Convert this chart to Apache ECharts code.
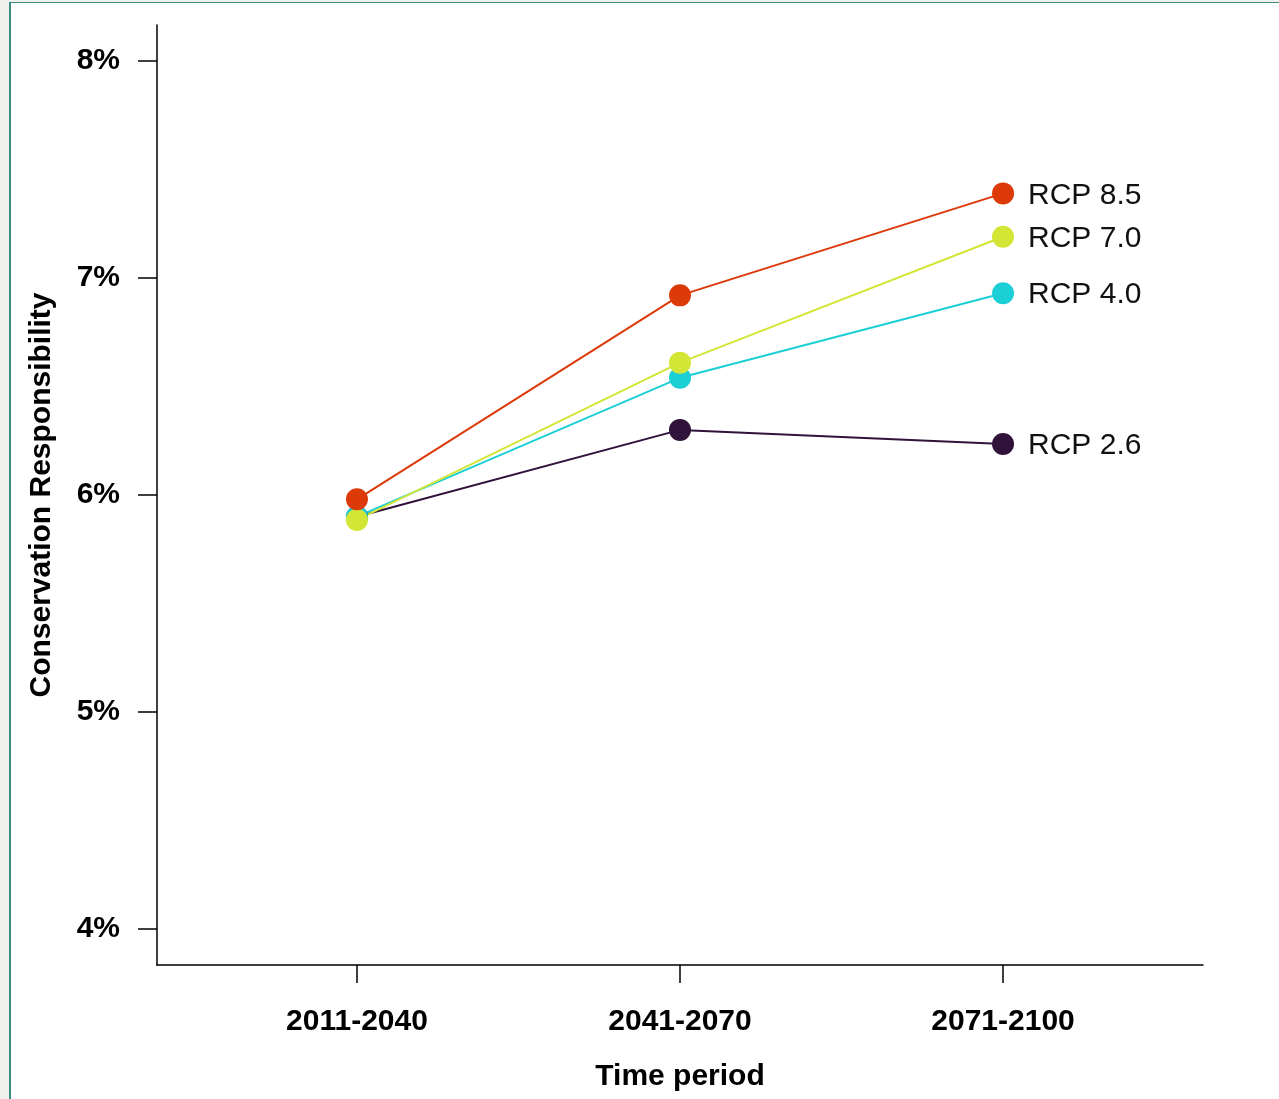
<!DOCTYPE html>
<html>
<head>
<meta charset="utf-8">
<script src="https://cdn.jsdelivr.net/npm/echarts@6/dist/echarts.min.js"></script>
<style>
  html, body { margin: 0; padding: 0; background: #f0f0ec; }
  .frame {
    position: absolute; left: 9px; top: 2px; right: 0; bottom: 0;
    background: #ffffff;
    border-left: 2px solid #3b8c82;
    border-top: 1.5px solid #3b8c82;
  }
  #chart { position: absolute; left: 0; top: 0; width: 1279px; height: 1099px; }
</style>
</head>
<body>
<div class="frame"></div>
<div id="chart"></div>
<script>
const categories = ["2011-2040", "2041-2070", "2071-2100"];
const yTicks = [4, 5, 6, 7, 8];

const rcp26 = [5.90, 6.30, 6.235];
const rcp40 = [5.90, 6.54, 6.93];
const rcp70 = [5.885, 6.61, 7.19];
const rcp85 = [5.98, 6.92, 7.39];

const seriesDefs = [
  { name: "RCP 2.6", values: rcp26, color: "#30123b" },
  { name: "RCP 4.0", values: rcp40, color: "#1ccfd6" },
  { name: "RCP 7.0", values: rcp70, color: "#d3e636" },
  { name: "RCP 8.5", values: rcp85, color: "#dc3a08" },
];

const font = "'Liberation Sans', Arial, sans-serif";
const chart = echarts.init(document.getElementById("chart"), null, { renderer: "canvas" });

chart.setOption({
  animation: false,
  backgroundColor: "transparent",
  grid: { left: 157, right: 76, top: 25, bottom: 134 },
  xAxis: {
    type: "value",
    min: -0.619,
    max: 2.619,
    name: "Time period",
    nameLocation: "middle",
    nameGap: 97,
    nameTextStyle: { fontFamily: font, fontSize: 30, fontWeight: "bold", color: "#000" },
    axisLine: { show: true, onZero: false, lineStyle: { color: "#000", width: 1.5 } },
    axisTick: { show: true, length: 18, customValues: [0, 1, 2], lineStyle: { color: "#000", width: 1.5 } },
    axisLabel: {
      customValues: [0, 1, 2],
      formatter: (v) => categories[Math.round(v)] || "",
      margin: 42,
      fontFamily: font, fontSize: 30, fontWeight: "bold", color: "#000",
    },
    splitLine: { show: false },
  },
  yAxis: {
    type: "value",
    min: 3.834,
    max: 8.166,
    name: "Conservation Responsibility",
    nameLocation: "middle",
    nameGap: 100,
    nameTextStyle: { fontFamily: font, fontSize: 30, fontWeight: "bold", color: "#000" },
    axisLine: { show: true, onZero: false, lineStyle: { color: "#000", width: 1.5 } },
    axisTick: { show: true, length: 19, customValues: yTicks, lineStyle: { color: "#000", width: 1.5 } },
    axisLabel: {
      customValues: yTicks,
      formatter: (v) => `${Math.round(v)}%`,
      margin: 37,
      padding: [4, 0, 0, 0],
      fontFamily: font, fontSize: 30, fontWeight: "bold", color: "#000",
    },
    splitLine: { show: false },
  },
  series: seriesDefs.map((s) => ({
    name: s.name,
    type: "line",
    data: s.values.map((v, i) => [i, v]),
    symbol: "circle",
    symbolSize: 22,
    showSymbol: true,
    itemStyle: { color: s.color },
    lineStyle: { color: s.color, width: 2 },
    endLabel: {
      show: true,
      formatter: "{a}",
      distance: 25,
      offset: [0, 2],
      fontFamily: font,
      fontSize: 30,
      color: "#111",
    },
  })),
});
</script>
</body>
</html>
